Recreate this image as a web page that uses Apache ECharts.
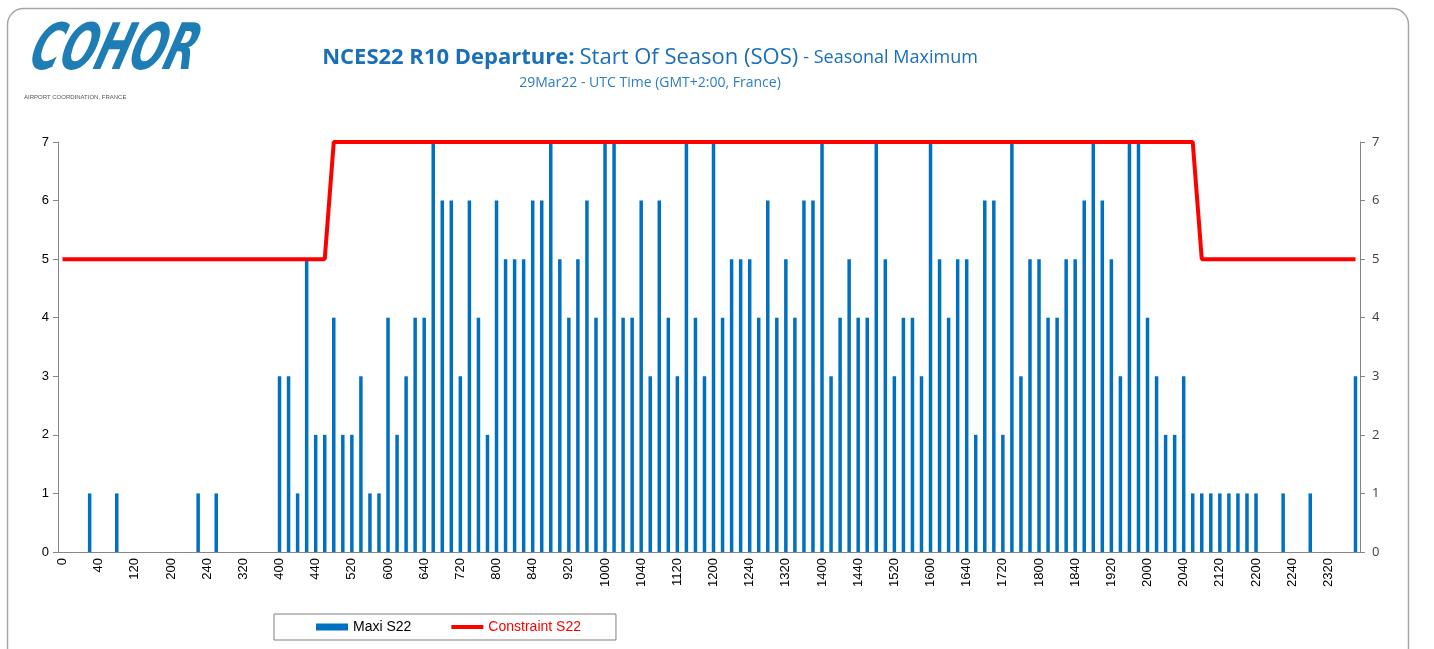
<!DOCTYPE html>
<html>
<head>
<meta charset="utf-8">
<title>NCES22 R10 Departure</title>
<script src="https://cdn.jsdelivr.net/npm/echarts@6/dist/echarts.min.js"></script>
<style>
  html, body { margin: 0; padding: 0; background: #fff; }
  #main { width: 1434px; height: 649px; }
</style>
</head>
<body>
<div id="main"></div>
<script>
// 10-minute slots, labels written as HMM (0, 10, ... 2350)
const slots = [];
for (let h = 0; h < 24; h++) {
  for (let m = 0; m < 60; m += 10) {
    slots.push(String(h * 100 + m));
  }
}

// Maxi S22 — one row per hour (6 slots)
const maxiS22 = [
  0, 0, 0, 1, 0, 0,
  1, 0, 0, 0, 0, 0,
  0, 0, 0, 1, 0, 1,
  0, 0, 0, 0, 0, 0,
  3, 3, 1, 5, 2, 2,
  4, 2, 2, 3, 1, 1,
  4, 2, 3, 4, 4, 7,
  6, 6, 3, 6, 4, 2,
  6, 5, 5, 5, 6, 6,
  7, 5, 4, 5, 6, 4,
  7, 7, 4, 4, 6, 3,
  6, 4, 3, 7, 4, 3,
  7, 4, 5, 5, 5, 4,
  6, 4, 5, 4, 6, 6,
  7, 3, 4, 5, 4, 4,
  7, 5, 3, 4, 4, 3,
  7, 5, 4, 5, 5, 2,
  6, 6, 2, 7, 3, 5,
  5, 4, 4, 5, 5, 6,
  7, 6, 5, 3, 7, 7,
  4, 3, 2, 2, 3, 1,
  1, 1, 1, 1, 1, 1,
  1, 0, 0, 1, 0, 0,
  1, 0, 0, 0, 0, 3
];

// Constraint S22 — one row per hour
const constraintS22 = [
  5, 5, 5, 5, 5, 5,
  5, 5, 5, 5, 5, 5,
  5, 5, 5, 5, 5, 5,
  5, 5, 5, 5, 5, 5,
  5, 5, 5, 5, 5, 5,
  7, 7, 7, 7, 7, 7,
  7, 7, 7, 7, 7, 7,
  7, 7, 7, 7, 7, 7,
  7, 7, 7, 7, 7, 7,
  7, 7, 7, 7, 7, 7,
  7, 7, 7, 7, 7, 7,
  7, 7, 7, 7, 7, 7,
  7, 7, 7, 7, 7, 7,
  7, 7, 7, 7, 7, 7,
  7, 7, 7, 7, 7, 7,
  7, 7, 7, 7, 7, 7,
  7, 7, 7, 7, 7, 7,
  7, 7, 7, 7, 7, 7,
  7, 7, 7, 7, 7, 7,
  7, 7, 7, 7, 7, 7,
  7, 7, 7, 7, 7, 7,
  5, 5, 5, 5, 5, 5,
  5, 5, 5, 5, 5, 5,
  5, 5, 5, 5, 5, 5
];

const chartDom = document.getElementById("main");
const myChart = echarts.init(chartDom);

const axisGray = "#868686";

const option = {
  backgroundColor: "#fff",
  animation: false,
  title: {
    left: 645,
    top: 42,
    textAlign: "center",
    itemGap: 7,
    text: "{b|NCES22 R10 Departure:} {n|Start Of Season (SOS)} {s|- Seasonal Maximum}",
    textStyle: {
      fontWeight: "normal",
      rich: {
        b: { fontFamily: "Open Sans", fontSize: 22, fontWeight: "bold", color: "#1a6fb8" },
        n: { fontFamily: "Open Sans", fontSize: 22, fontWeight: "normal", color: "#1a6fb8" },
        s: { fontFamily: "Open Sans", fontSize: 18, fontWeight: "normal", color: "#1a6fb8" }
      }
    },
    subtext: "29Mar22 - UTC Time (GMT+2:00, France)",
    subtextStyle: { fontFamily: "Open Sans", fontSize: 14, color: "#2e7cc4" }
  },
  graphic: [
    {
      type: "rect",
      silent: true,
      shape: { x: 7.5, y: 8.5, width: 1401, height: 700, r: 16 },
      style: { fill: "none", stroke: "#a6a6a6", lineWidth: 1.5 }
    },
    {
      type: "text",
      left: 22,
      top: 20,
      scaleX: 0.64,
      skewX: -0.3,
      style: {
        text: "COHOR",
        font: 'italic bold 64px "DejaVu Sans"',
        fill: "#1f7db5"
      }
    },
    {
      type: "text",
      left: 24,
      top: 94,
      style: {
        text: "AIRPORT COORDINATION, FRANCE",
        font: '6px "Liberation Sans"',
        fill: "#555"
      }
    }
  ],
  legend: {
    left: 274,
    top: 614,
    padding: [6, 35, 6, 42],
    itemGap: 40,
    itemWidth: 32,
    itemHeight: 7,
    borderColor: "#7f7f7f",
    borderWidth: 1,
    textStyle: { fontFamily: "Liberation Sans", fontSize: 14 },
    data: [
      { name: "Maxi S22", icon: "rect", textStyle: { color: "#000" } },
      { name: "Constraint S22", icon: "path://M0,0H32V4H0Z", textStyle: { color: "#ff0000" } }
    ]
  },
  grid: {
    left: 58,
    right: 74,
    top: 142,
    bottom: 97
  },
  xAxis: {
    type: "category",
    data: slots,
    boundaryGap: true,
    axisLine: { lineStyle: { color: axisGray } },
    axisTick: { interval: 0, length: 5, lineStyle: { color: axisGray } },
    axisLabel: {
      interval: 3,
      rotate: 90,
      margin: 6,
      fontFamily: "Liberation Sans",
      fontSize: 13,
      color: "#000"
    },
    splitLine: { show: false }
  },
  yAxis: [
    {
      type: "value",
      min: 0,
      max: 7,
      interval: 1,
      axisLine: { show: true, lineStyle: { color: axisGray } },
      axisTick: { show: true, length: 5, lineStyle: { color: axisGray } },
      axisLabel: { margin: 9, fontFamily: "Liberation Sans", fontSize: 13, color: "#000" },
      splitLine: { show: false }
    },
    {
      type: "value",
      position: "right",
      min: 0,
      max: 7,
      interval: 1,
      axisLine: { show: true, lineStyle: { color: axisGray } },
      axisTick: { show: true, length: 5, lineStyle: { color: axisGray } },
      axisLabel: { margin: 12, fontFamily: "Open Sans", fontSize: 13, color: "#404040" },
      splitLine: { show: false }
    }
  ],
  series: [
    {
      name: "Maxi S22",
      type: "bar",
      data: maxiS22,
      barWidth: 3.5,
      itemStyle: { color: "#0070c0" }
    },
    {
      name: "Constraint S22",
      type: "line",
      data: constraintS22,
      symbol: "none",
      z: 3,
      lineStyle: { color: "#ff0000", width: 4 },
      itemStyle: { color: "#ff0000" }
    }
  ]
};

option && myChart.setOption(option);
</script>
</body>
</html>
